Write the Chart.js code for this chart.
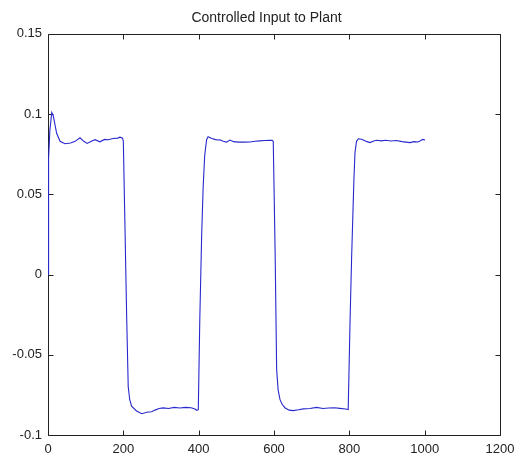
<!DOCTYPE html>
<html>
<head>
<meta charset="utf-8">
<script src="https://cdn.jsdelivr.net/npm/chart.js@4/dist/chart.umd.min.js"></script>
<style>
  body { margin: 0; background: #fff; }
  canvas { display: block; }
</style>
</head>
<body>
<canvas id="plant" width="521" height="458"></canvas>
<script>
// Controlled input to plant (sample index vs control signal)
const title = "Controlled Input to Plant";

const steps = [
  0, 1, 2, 5, 10, 14, 18, 23, 32, 45, 60, 72, 85, 95, 104, 115, 125, 138, 150, 160, 173, 185, 191, 198,
  200, 204, 209, 213, 217, 222, 235, 249, 262, 275, 284, 295, 306, 320, 335, 350, 365, 380, 390, 395, 399,
  403, 408, 412, 416, 421, 425, 435, 443, 450, 456, 465, 474, 483, 493, 505, 520, 536, 550, 563, 575, 589, 595, 598,
  603, 607, 611, 616, 622, 629, 640, 651, 665, 678, 695, 713, 730, 745, 760, 775, 790, 797,
  802, 806, 809, 812, 815, 819, 824, 832, 840, 847, 855, 863, 872, 885, 897, 910, 925, 940, 950, 961, 972, 982, 990, 995, 1001
];

const input = [
  0, 0.045, 0.072, 0.090, 0.101, 0.099, 0.094, 0.088, 0.083, 0.0815, 0.082, 0.083, 0.0852, 0.083, 0.0817, 0.083, 0.084, 0.0827, 0.0842, 0.084, 0.0848, 0.085, 0.0856, 0.085,
  0.083, 0.034, -0.028, -0.070, -0.078, -0.082, -0.085, -0.0867, -0.0858, -0.0855, -0.0845, -0.0835, -0.0831, -0.0835, -0.0828, -0.0832, -0.0828, -0.083, -0.0838, -0.0846, -0.0842,
  -0.028, 0.025, 0.055, 0.074, 0.084, 0.0858, 0.0848, 0.0842, 0.0838, 0.084, 0.083, 0.0825, 0.0838, 0.0828, 0.0825, 0.0825, 0.0826, 0.083, 0.0833, 0.0835, 0.0837, 0.0836, 0.083,
  0.0137, -0.059, -0.072, -0.078, -0.081, -0.083, -0.0845, -0.0848, -0.0843, -0.0837, -0.0835, -0.0828, -0.0835, -0.0832, -0.083, -0.0834, -0.0838, -0.0842,
  -0.028, 0.010, 0.034, 0.058, 0.0759, 0.083, 0.0846, 0.0843, 0.0835, 0.0828, 0.0822, 0.083, 0.0837, 0.0833, 0.0837, 0.0832, 0.0835, 0.0828, 0.0825, 0.0822, 0.0828, 0.0826, 0.0835, 0.0842, 0.0838
];

const xTicks = [0, 200, 400, 600, 800, 1000, 1200];
const yTicks = [-0.1, -0.05, 0, 0.05, 0.1, 0.15];
const xLabels = ["0", "200", "400", "600", "800", "1000", "1200"];
const yLabels = ["-0.1", "-0.05", "0", "0.05", "0.1", "0.15"];

const points = steps.map((s, i) => ({ x: s, y: input[i] }));

// matlab style box with inward ticks on all four sides
const boxFrame = {
  id: "boxFrame",
  beforeDatasetsDraw(chart) {
    const { ctx, chartArea: a, scales } = chart;
    const len = 5;
    ctx.save();
    ctx.strokeStyle = "#222";
    ctx.lineWidth = 1;
    ctx.beginPath();
    const L = Math.round(a.left) + 0.5, R = Math.round(a.right) + 0.5;
    const T = Math.round(a.top) + 0.5, B = Math.round(a.bottom) + 0.5;
    ctx.rect(L, T, R - L, B - T);
    xTicks.forEach(v => {
      const px = Math.round(scales.x.getPixelForValue(v)) + 0.5;
      ctx.moveTo(px, B); ctx.lineTo(px, B - len);
      ctx.moveTo(px, T); ctx.lineTo(px, T + len);
    });
    yTicks.forEach(v => {
      const py = Math.round(scales.y.getPixelForValue(v)) + 0.5;
      ctx.moveTo(L, py); ctx.lineTo(L + len, py);
      ctx.moveTo(R, py); ctx.lineTo(R - len, py);
    });
    ctx.stroke();
    ctx.restore();
  }
};

const tickFont = { family: "'Liberation Sans', Arial, sans-serif", size: 13 };

new Chart(document.getElementById("plant"), {
  type: "line",
  data: {
    datasets: [{
      data: points,
      borderColor: "rgb(40,40,205)",
      borderWidth: 1.1,
      pointRadius: 0,
      tension: 0,
      fill: false,
      clip: false
    }]
  },
  options: {
    responsive: false,
    animation: false,
    layout: { padding: { left: 12, right: 0, top: 0, bottom: 0 } },
    plugins: {
      legend: { display: false },
      tooltip: { enabled: false },
      title: {
        display: true,
        text: title,
        color: "#222",
        font: { family: "'Liberation Sans', Arial, sans-serif", size: 14, weight: "normal" },
        padding: { top: 10, bottom: 7 }
      }
    },
    scales: {
      x: {
        type: "linear",
        min: 0,
        max: 1200,
        afterBuildTicks: s => { s.ticks = xTicks.map(v => ({ value: v })); },
        afterFit: s => { s.height = 23; s.paddingRight = 21; },
        grid: { display: false, drawTicks: false },
        border: { display: false },
        ticks: {
          color: "#222", font: tickFont, padding: 7, maxRotation: 0,
          callback: (v, i) => xLabels[i]
        }
      },
      y: {
        min: -0.1,
        max: 0.15,
        afterBuildTicks: s => { s.ticks = yTicks.map(v => ({ value: v })); },
        afterFit: s => { s.width = 36; },
        grid: { display: false, drawTicks: false },
        border: { display: false },
        ticks: {
          color: "#222", font: tickFont, padding: 6,
          callback: (v, i) => yLabels[i]
        }
      }
    }
  },
  plugins: [boxFrame]
});
</script>
</body>
</html>
